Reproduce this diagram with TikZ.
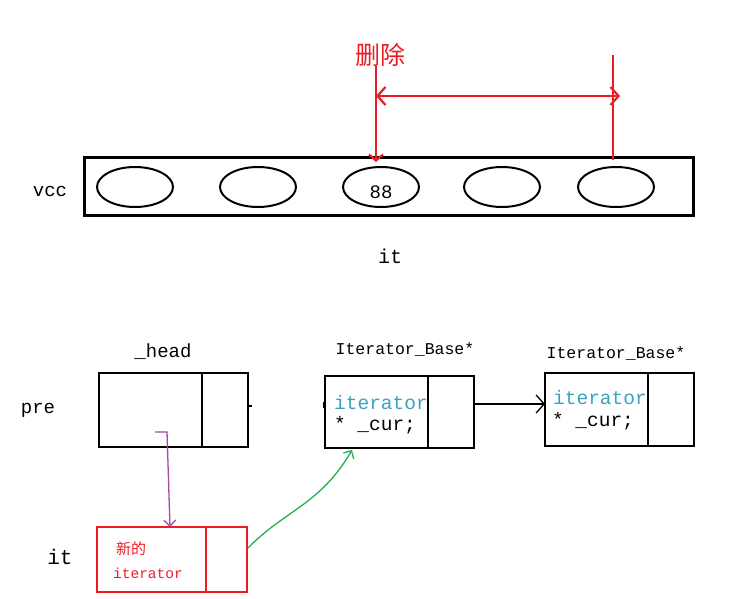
\documentclass[tikz,border=0pt]{standalone}
\usepackage{fontspec}
\setmonofont{Liberation Mono}
\newfontfamily\cjk{Noto Sans CJK SC}
\usetikzlibrary{arrows.meta}
\definecolor{myred}{RGB}{237,28,36}
\definecolor{teal2}{RGB}{60,160,190}
\definecolor{purp}{RGB}{163,73,164}
\definecolor{grn}{RGB}{34,177,76}
\tikzset{
  thickbox/.style={draw=black,line width=3pt},
  lbl/.style={font=\ttfamily\fontsize{19}{21}\selectfont},
  small/.style={font=\ttfamily\fontsize{16.5}{18}\selectfont},
  boxtxt/.style={font=\ttfamily\fontsize{19.5}{21}\selectfont},
  redline/.style={draw=myred,line width=2.2pt},
}
\begin{document}
\begin{tikzpicture}[x=1pt,y=-1pt]
\useasboundingbox (0,0) rectangle (755,599);
% top
\node[text=myred,font=\cjk\fontsize{25}{27}\selectfont] (del) at (380,55) {删除};
\draw[thickbox] (84,158) rectangle (693,215);
\foreach \x in {135,258,381,502,616}
  \draw[black,line width=2pt] (\x,187) ellipse (38pt and 20pt);
\node[font=\ttfamily\fontsize{19}{21}\selectfont] (n88) at (381,192) {88};
\node[lbl] (vcc) at (50,191) {vcc};
\node[font=\ttfamily\fontsize{20}{22}\selectfont] (it1) at (390,256) {it};
\coordinate (a1) at (376,66); \coordinate (a2) at (376,162);
\coordinate (b1) at (613,55); \coordinate (b2) at (613,160);
\draw[redline,-{Straight Barb[length=6pt,width=14pt]}] (a1) -- (a2);
\draw[redline] (b1) -- (b2);
\coordinate (h1) at (376,96); \coordinate (h2) at (620,96);
\draw[redline,{Straight Barb[length=8pt,width=18pt]}-{Straight Barb[length=8pt,width=18pt]}] (h1) -- (h2);
% bottom
\node[lbl] (head) at (163,352) {\_head};
\draw[line width=2pt] (99,373) rectangle (248,447);
\draw[line width=2pt] (202,373) -- (202,447);
\node[lbl] (pre) at (38,410) {pre};
\node[small] (ib1) at (405,349) {Iterator\_Base*};
\draw[line width=2pt] (325,376) rectangle (474,448);
\draw[line width=2pt] (428,376) -- (428,448);
\node[boxtxt,text=teal2] (itr1) at (381,403) {iterator};
\node[boxtxt] (cur1) at (375,425) {* \_cur;};
\node[small] (ib2) at (616,353) {Iterator\_Base*};
\draw[line width=2pt] (545,373) rectangle (694,446);
\draw[line width=2pt] (648,373) -- (648,446);
\node[boxtxt,text=teal2] (itr2) at (600,398) {iterator};
\node[boxtxt] (cur2) at (593,421) {* \_cur;};
\coordinate (c1) at (474,404); \coordinate (c2) at (545,404);
\draw[line width=1.3pt,-{Straight Barb[length=8pt,width=18pt]}] (c1) -- (c2);
\draw[line width=1.3pt] (248,406) -- (252,406);
\draw[line width=1.3pt] (324,402) -- (324,408);
% red box
\draw[draw=myred,line width=2.5pt] (97,527) rectangle (247,592);
\draw[draw=myred,line width=2.5pt] (206,527) -- (206,592);
\node[text=myred,font=\cjk\fontsize{15}{17}\selectfont] (xin) at (131,549) {新的};
\node[text=myred,font=\ttfamily\fontsize{14.5}{16}\selectfont] (itr3) at (148,573) {iterator};
\node[font=\ttfamily\fontsize{21}{23}\selectfont] (it2) at (60,557) {it};
\coordinate (p1) at (155,432); \coordinate (p2) at (167,432); \coordinate (p3) at (170,527);
\draw[purp,line width=1.3pt,-{Straight Barb[length=6pt,width=12pt]}] (p1) -- (p2) -- (p3);
\coordinate (g1) at (248,548); \coordinate (g2) at (352,450);
\draw[grn,line width=1.3pt,-{Straight Barb[length=6pt,width=12pt]}] (g1) .. controls (285,510) and (320,505) .. (g2);
\end{tikzpicture}
\end{document}
